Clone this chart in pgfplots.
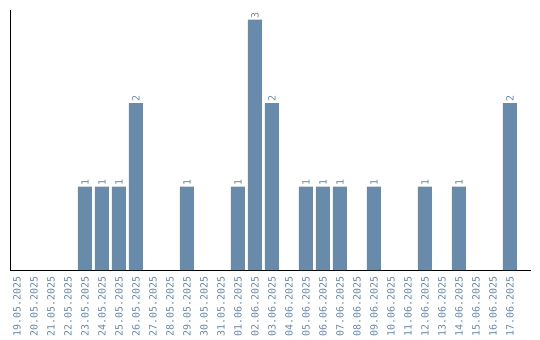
\documentclass[border=0pt]{standalone}
\usepackage{fontspec}
\usepackage{pgfplots}
\pgfplotsset{compat=1.18}
\newfontfamily\monofont{DejaVu Sans Mono}
\definecolor{barc}{HTML}{688BAB}
\definecolor{labc}{HTML}{6688A8}
\begin{document}
\begin{tikzpicture}
\path[use as bounding box] (-10.5bp,-70bp) rectangle (529.5bp,270bp);
\begin{axis}[
  at={(0,0)}, anchor=south west,
  scale only axis,
  width=520.5bp, height=260bp,
  xmin=-0.38, xmax=30.24,
  ymin=0, ymax=3.114,
  axis x line*=bottom, axis y line*=left,
  axis line style={black, line width=0.8pt, -},
  ytick=\empty,
  xtick={0,...,29},
  xticklabels={19.05.2025,20.05.2025,21.05.2025,22.05.2025,23.05.2025,24.05.2025,25.05.2025,26.05.2025,27.05.2025,28.05.2025,29.05.2025,30.05.2025,31.05.2025,01.06.2025,02.06.2025,03.06.2025,04.06.2025,05.06.2025,06.06.2025,07.06.2025,08.06.2025,09.06.2025,10.06.2025,11.06.2025,12.06.2025,13.06.2025,14.06.2025,15.06.2025,16.06.2025,17.06.2025},
  major tick length=0pt,
  xticklabel style={yshift=-6bp, rotate=90, anchor=east, inner sep=0pt, font=\monofont\fontsize{10}{11}\selectfont, text=labc},
  ybar, bar width=14bp,
  nodes near coords,
  /pgf/number format/assume math mode=true,
  every node near coord/.append style={rotate=90, anchor=west, inner sep=1bp, font=\monofont\fontsize{10}{11}\selectfont, text=labc},
]
\addplot[fill=barc, draw=none] coordinates {
(4,1) (5,1) (6,1) (7,2) (10,1) (13,1) (14,3) (15,2) (17,1) (18,1) (19,1) (21,1) (24,1) (26,1) (29,2)
};
\end{axis}
\end{tikzpicture}
\end{document}
